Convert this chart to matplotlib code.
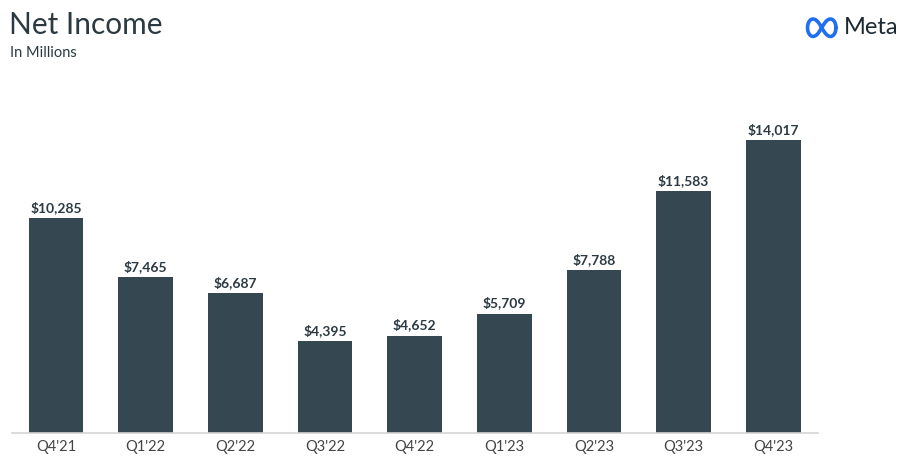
import numpy as np
import matplotlib.pyplot as plt

# Data
quarters = ["Q4'21", "Q1'22", "Q2'22", "Q3'22", "Q4'22", "Q1'23", "Q2'23", "Q3'23", "Q4'23"]
net_income = [10285, 7465, 6687, 4395, 4652, 5709, 7788, 11583, 14017]

bar_color = '#354852'
text_color = '#2b3a42'

plt.rcParams['font.family'] = ['Lato', 'DejaVu Sans']

fig = plt.figure(figsize=(9.08, 4.62), dpi=100)
ax = fig.add_axes([0.0132, 0.0628, 0.8877, 0.7208])

x = np.arange(len(quarters))
bars = ax.bar(x, net_income, width=0.61, color=bar_color)

for xi, v in zip(x, net_income):
    ax.annotate(f'${v:,}', (xi, v), xytext=(0, 3), textcoords='offset points',
                ha='center', va='bottom', fontsize=10, fontweight='bold', color=text_color)

ax.set_xlim(-0.49, 8.5)
ax.set_ylim(0, 15930)
ax.set_xticks(x)
ax.set_xticklabels(quarters, fontsize=10.5, color='#444444')
ax.tick_params(axis='x', length=0, pad=5)
ax.set_yticks([])
for s in ['top', 'right', 'left']:
    ax.spines[s].set_visible(False)
ax.spines['bottom'].set_color('#d4d4d4')
ax.spines['bottom'].set_linewidth(1.2)

# Title and subtitle
fig.text(0.010, 0.945, 'Net Income', fontsize=21.5, color=text_color, va='center', ha='left')
fig.text(0.011, 0.885, 'In Millions', fontsize=10.5, color=text_color, va='center', ha='left')

# Meta logo
logo = fig.add_axes([0.887, 0.915, 0.036, 0.05])
t = np.linspace(0, 2 * np.pi, 300)
lx = np.cos(t) / (1 + np.sin(t) ** 2)
ly = np.sin(t) * np.cos(t) / (1 + np.sin(t) ** 2)
logo.plot(lx, ly * 1.6, color='#1f6ff0', linewidth=2.6, solid_capstyle='round')
logo.set_xlim(-1.15, 1.15)
logo.set_ylim(-0.75, 0.75)
logo.axis('off')
fig.text(0.929, 0.94, 'Meta', fontsize=17, color='#1c2b33', va='center', ha='left')

fig.savefig('out.png', dpi=100)
